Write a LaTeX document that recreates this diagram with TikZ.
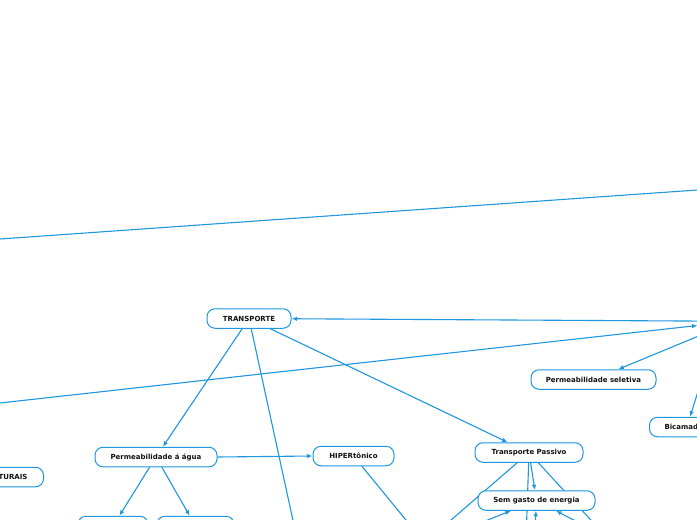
\documentclass[tikz,border=0pt]{standalone}
\usepackage{fontspec}
\setmainfont{DejaVu Sans}
\usetikzlibrary{arrows.meta,positioning,calc,backgrounds}
\definecolor{linkblue}{HTML}{1E96E0}
\definecolor{ink}{HTML}{111111}

\begin{document}
\begin{tikzpicture}[x=1pt,y=-1pt,
  font=\fontsize{7}{8}\selectfont\bfseries, >={Latex[length=5.5pt,width=4.5pt]},
  topic/.style={draw=linkblue, line width=1pt, rounded corners=8pt, fill=white, text=ink, minimum height=19.5pt, inner sep=0pt},
  branch/.style={draw=linkblue, line width=1.1pt},
]
\useasboundingbox (0,0) rectangle (697,520);
\clip (0,0) rectangle (697,520);
% --- topics ---
\node[topic, minimum width=84pt] (transporte) at (249,318.5) {TRANSPORTE};
\node[topic, minimum width=125pt] (seletiva) at (593.5,379.5) {Permeabilidade seletiva};
\node[topic, anchor=west, inner xsep=15pt] (bicamada) at (649,427) {Bicamada lipídica};
\node[topic, anchor=east, inner xsep=16pt] (estruturais) at (44,477) {ESTRUTURAIS};
\node[topic, minimum width=122pt] (agua) at (156,457) {Permeabilidade á água};
\node[topic, minimum width=81pt] (hiper) at (353.5,456) {HIPERtônico};
\node[topic, minimum width=108pt] (passivo) at (529,452.5) {Transporte Passivo};
\node[topic, minimum width=117pt] (semgasto) at (536.5,500.5) {Sem gasto de energia};
\node[topic, minimum width=70pt] (aguaA) at (113,526) {};
\node[topic, minimum width=77pt] (aguaB) at (195.5,526) {};
% hub just past the right edge
\node[topic, minimum width=100pt, minimum height=21pt] (hub) at (748,325.5) {};
% --- ends that lie outside the frame ---
\coordinate (farA) at (-20,240.4);
\coordinate (farB) at (720,188.4);
\coordinate (farC) at (-20,405.2);
\coordinate (belowT) at (306,580);
\coordinate (belowH) at (435.5,556);
\coordinate (belowP1) at (413.5,552.5);
\coordinate (belowP2) at (525.6,552);
\coordinate (belowP3) at (671,607.5);
\coordinate (belowS1) at (411.5,550.5);
\coordinate (belowS2) at (533.5,560);
\coordinate (belowS3) at (631.5,550.5);
\coordinate (hubfoot) at ([xshift=18pt]hub.south west);
\coordinate (bicamtop) at ([xshift=41pt]bicamada.north west);
% --- connectors ---
\begin{scope}[on background layer]
\clip (0,0) rectangle (697,520);
\draw[branch] (farA) -- (farB);
\draw[branch,->] (hub.175) -- (transporte);
\draw[branch,->] (farC) -- (hub.west);
\draw[branch,->] (hub.south west) -- (seletiva);
\draw[branch,->] (hubfoot) -- (bicamtop);
\draw[branch,->] (transporte) -- (agua);
\draw[branch,->] (transporte) -- (belowT);
\draw[branch,->] (transporte) -- (passivo);
\draw[branch,->] (agua.east) -- (hiper.west);
\draw[branch,->] (agua) -- (aguaA);
\draw[branch,->] (agua) -- (aguaB);
\draw[branch,->] (hiper) -- (belowH);
\draw[branch,->] (passivo) -- (belowP1);
\draw[branch,->] (passivo) -- (belowP2);
\draw[branch,->] (passivo) -- (semgasto);
\draw[branch,->] (passivo) -- (belowP3);
\draw[branch,->] (belowS1) -- (semgasto);
\draw[branch,->] (belowS2) -- (semgasto);
\draw[branch,->] (belowS3) -- (semgasto);
\end{scope}
\end{tikzpicture}
\end{document}
